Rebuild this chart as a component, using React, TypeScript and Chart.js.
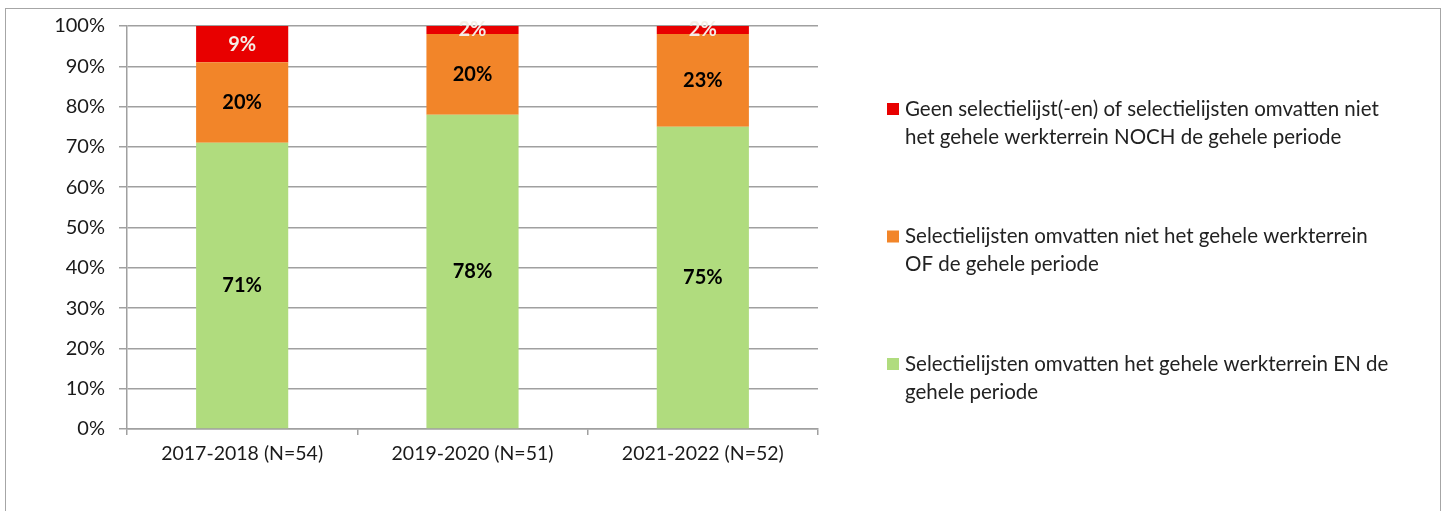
import React, { useEffect, useRef } from "react";
import { Chart, registerables } from "chart.js";

Chart.register(...registerables);

const categories = ["2017-2018 (N=54)", "2019-2020 (N=51)", "2021-2022 (N=52)"];
const greenValues = [71, 78, 75];
const orangeValues = [20, 20, 23];
const redValues = [9, 2, 2];

const greenLabel = ["Selectielijsten omvatten het gehele werkterrein EN de", "gehele periode"];
const orangeLabel = ["Selectielijsten omvatten niet het gehele werkterrein", "OF de gehele periode"];
const redLabel = ["Geen selectielijst(-en) of selectielijsten omvatten niet", "het gehele werkterrein NOCH de gehele periode"];

const FONT = "Lato";
const GRID = "#a0a0a0";

const labelPlugin = {
  id: "segLabels",
  afterDatasetsDraw(chart: any) {
    const ctx = chart.ctx;
    ctx.save();
    ctx.textAlign = "center";
    ctx.textBaseline = "middle";
    chart.data.datasets.forEach((ds: any, i: number) => {
      const meta = chart.getDatasetMeta(i);
      meta.data.forEach((bar: any, j: number) => {
        const v = ds.data[j];
        const cy = (bar.y + bar.base) / 2;
        ctx.font = `bold 20px ${FONT}`;
        ctx.fillStyle = ds.labelColor;
        ctx.fillText(v + "%", bar.x, cy);
      });
    });
    ctx.restore();
  },
  afterDraw(chart: any) {
    const ctx = chart.ctx;
    ctx.save();
    ctx.textAlign = "left";
    ctx.textBaseline = "middle";
    ctx.font = `20.5px ${FONT}`;
    const items = [...chart.data.datasets].reverse();
    items.forEach((ds: any, k: number) => {
      const y0 = 109 + k * 127.5;
      ctx.fillStyle = ds.backgroundColor;
      ctx.fillRect(887, y0 - 6, 12, 12);
      ctx.fillStyle = "#222";
      ds.legendLines.forEach((line: string, li: number) => {
        ctx.fillText(line, 905, y0 + li * 28);
      });
    });
    ctx.restore();
  },
};

export default function App() {
  const ref = useRef<HTMLCanvasElement>(null);
  useEffect(() => {
    if (!ref.current) return;
    const chart = new Chart(ref.current, {
      type: "bar",
      data: {
        labels: categories,
        datasets: [
          { label: greenLabel.join(" "), data: greenValues, backgroundColor: "#b0dc7e", labelColor: "#000", legendLines: greenLabel } as any,
          { label: orangeLabel.join(" "), data: orangeValues, backgroundColor: "#f28529", labelColor: "#000", legendLines: orangeLabel } as any,
          { label: redLabel.join(" "), data: redValues, backgroundColor: "#e80000", labelColor: "#f4eee6", legendLines: redLabel } as any,
        ],
      },
      options: {
        responsive: false,
        animation: false,
        layout: { padding: { top: 26, right: 631, bottom: 42, left: 0 } },
        datasets: { bar: { categoryPercentage: 0.8, barPercentage: 0.5 } },
        plugins: { legend: { display: false }, tooltip: { enabled: false }, title: { display: false } },
        scales: {
          x: {
            stacked: true,
            grid: { drawOnChartArea: false, drawTicks: true, tickLength: 6, color: GRID, lineWidth: 1.5 },
            border: { color: GRID, width: 1.5 },
            ticks: { color: "#1a1a1a", font: { family: FONT, size: 19.5 }, padding: 7 },
            afterFit: (s: any) => { s.height = 40; },
          },
          y: {
            stacked: true,
            min: 0,
            max: 100,
            grid: { color: GRID, lineWidth: 1.5, tickLength: 8 },
            border: { color: GRID, width: 1.5 },
            ticks: { stepSize: 10, color: "#1a1a1a", font: { family: FONT, size: 20 }, padding: 14, callback: (v: any) => v + "%" },
            afterFit: (s: any) => { s.width = 127; },
          },
        },
      } as any,
      plugins: [labelPlugin],
    });
    return () => chart.destroy();
  }, []);
  return (
    <div style={{ position: "absolute", left: 0, top: 0, width: 1449, height: 511, overflow: "hidden", background: "#fff" }}>
      <div style={{ position: "absolute", left: 5, top: 8, width: 1434, height: 600, border: "1.5px solid #a6a6a6" }} />
      <canvas ref={ref} width={1449} height={511} style={{ position: "absolute", left: 0, top: 0 }} />
    </div>
  );
}
